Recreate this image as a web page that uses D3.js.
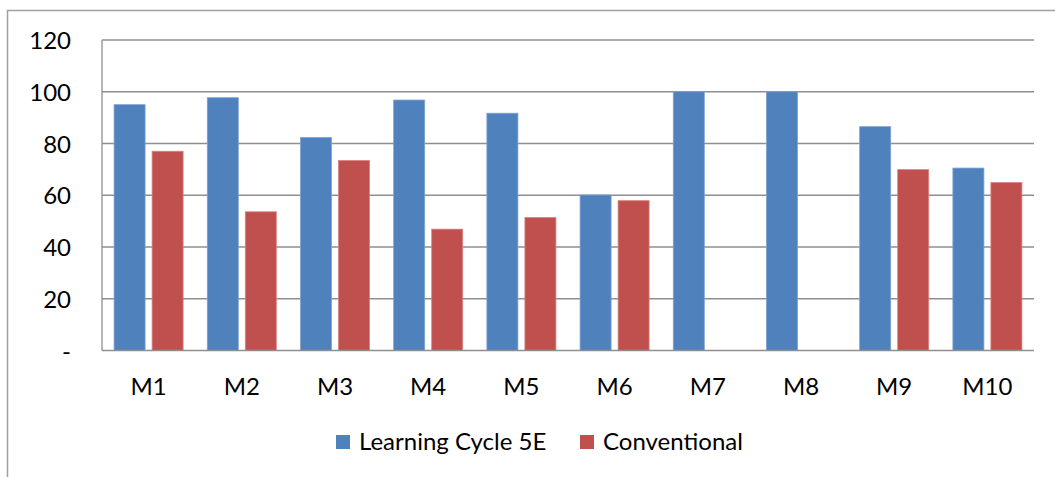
<!DOCTYPE html>
<html><head><meta charset="utf-8">
<script src="https://cdn.jsdelivr.net/npm/d3@7"></script>
<style>
html,body{margin:0;padding:0;background:#fff;}
svg{display:block;}
text{font-family:Lato,"Open Sans",sans-serif;fill:#000;}
</style></head>
<body>
<svg id="c" width="1055" height="477"></svg>
<script>
const categories = ["M1","M2","M3","M4","M5","M6","M7","M8","M9","M10"];
const seriesNames = ["Learning Cycle 5E","Conventional"];
const learningCycle5E = [95, 97.7, 82.3, 96.8, 91.7, 60.1, 100, 100, 86.5, 70.5];
const conventional = [77, 53.6, 73.4, 46.9, 51.4, 57.9, 0, 0, 69.9, 64.9];
const yTicks = [0,20,40,60,80,100,120];
const yTickLabels = ["-","20","40","60","80","100","120"];
const colors = ["#4f81bd","#c0504d"];
const strokes = ["#7ea1d0","#d98280"];
const FS = "24px";

const svg = d3.select("#c");
const L = 102, R = 1034, T = 40, B = 350.5;

// outer frame (only top and left visible)
svg.append("path").attr("d","M7.5,477 L7.5,10.5 L1055,10.5")
  .attr("fill","none").attr("stroke","#a0a0a0").attr("stroke-width",1.5);

const y = d3.scaleLinear().domain([0,120]).range([B,T]);
const x0 = d3.scaleBand().domain(categories).range([L,R]).padding(0);
const x1 = d3.scaleBand().domain(seriesNames).range([0,x0.bandwidth()])
  .paddingInner(0.184).paddingOuter(0.318);

// gridlines
svg.append("g").selectAll("line").data(yTicks.filter(d=>d>0)).join("line")
  .attr("x1",L).attr("x2",R).attr("y1",d=>y(d)).attr("y2",d=>y(d))
  .attr("stroke","#8f8f8f").attr("stroke-width",1.3);

// y tick labels via axis
const yAxis = d3.axisLeft(y).tickValues(yTicks).tickSize(0).tickPadding(0)
  .tickFormat((d,i)=>yTickLabels[i]);
const gy = svg.append("g").attr("transform",`translate(71,0)`).call(yAxis);
gy.select(".domain").remove();
gy.selectAll("text").style("font-size",FS).style("font-family","Lato").attr("fill","#000").attr("dy","0.36em");

// bars
const data = categories.map((c,i)=>({c, vals:[learningCycle5E[i], conventional[i]]}));
const groups = svg.append("g").selectAll("g").data(data).join("g")
  .attr("transform",d=>`translate(${x0(d.c)},0)`);
groups.selectAll("rect").data(d=>d.vals.map((v,j)=>({v,s:seriesNames[j],j}))).join("rect")
  .filter(d=>d.v>0)
  .attr("x",d=>x1(d.s)).attr("width",x1.bandwidth())
  .attr("y",d=>y(d.v)).attr("height",d=>y(0)-y(d.v))
  .attr("fill",d=>colors[d.j]).attr("stroke",d=>strokes[d.j]).attr("stroke-width",0.8);

// axis lines
svg.append("line").attr("x1",L).attr("x2",L).attr("y1",T).attr("y2",B)
  .attr("stroke","#8f8f8f").attr("stroke-width",1.3);
svg.append("line").attr("x1",L).attr("x2",R).attr("y1",B).attr("y2",B)
  .attr("stroke","#8f8f8f").attr("stroke-width",1.3);

// x labels via axis
const xAxis = d3.axisBottom(x0).tickSize(0).tickPadding(0);
const gx = svg.append("g").attr("transform",`translate(0,394.5)`).call(xAxis);
gx.select(".domain").remove();
gx.selectAll("text").style("font-size",FS).style("font-family","Lato").attr("fill","#000").attr("dy","0");

// legend
const legendX = [336, 580];
const leg = svg.append("g").selectAll("g").data(seriesNames).join("g")
  .attr("transform",(d,i)=>`translate(${legendX[i]},435)`);
leg.append("rect").attr("width",14).attr("height",14).attr("fill",(d,i)=>colors[i]);
leg.append("text").attr("x",23).attr("y",14.5).style("font-size",FS).text(d=>d);
</script>
</body></html>
